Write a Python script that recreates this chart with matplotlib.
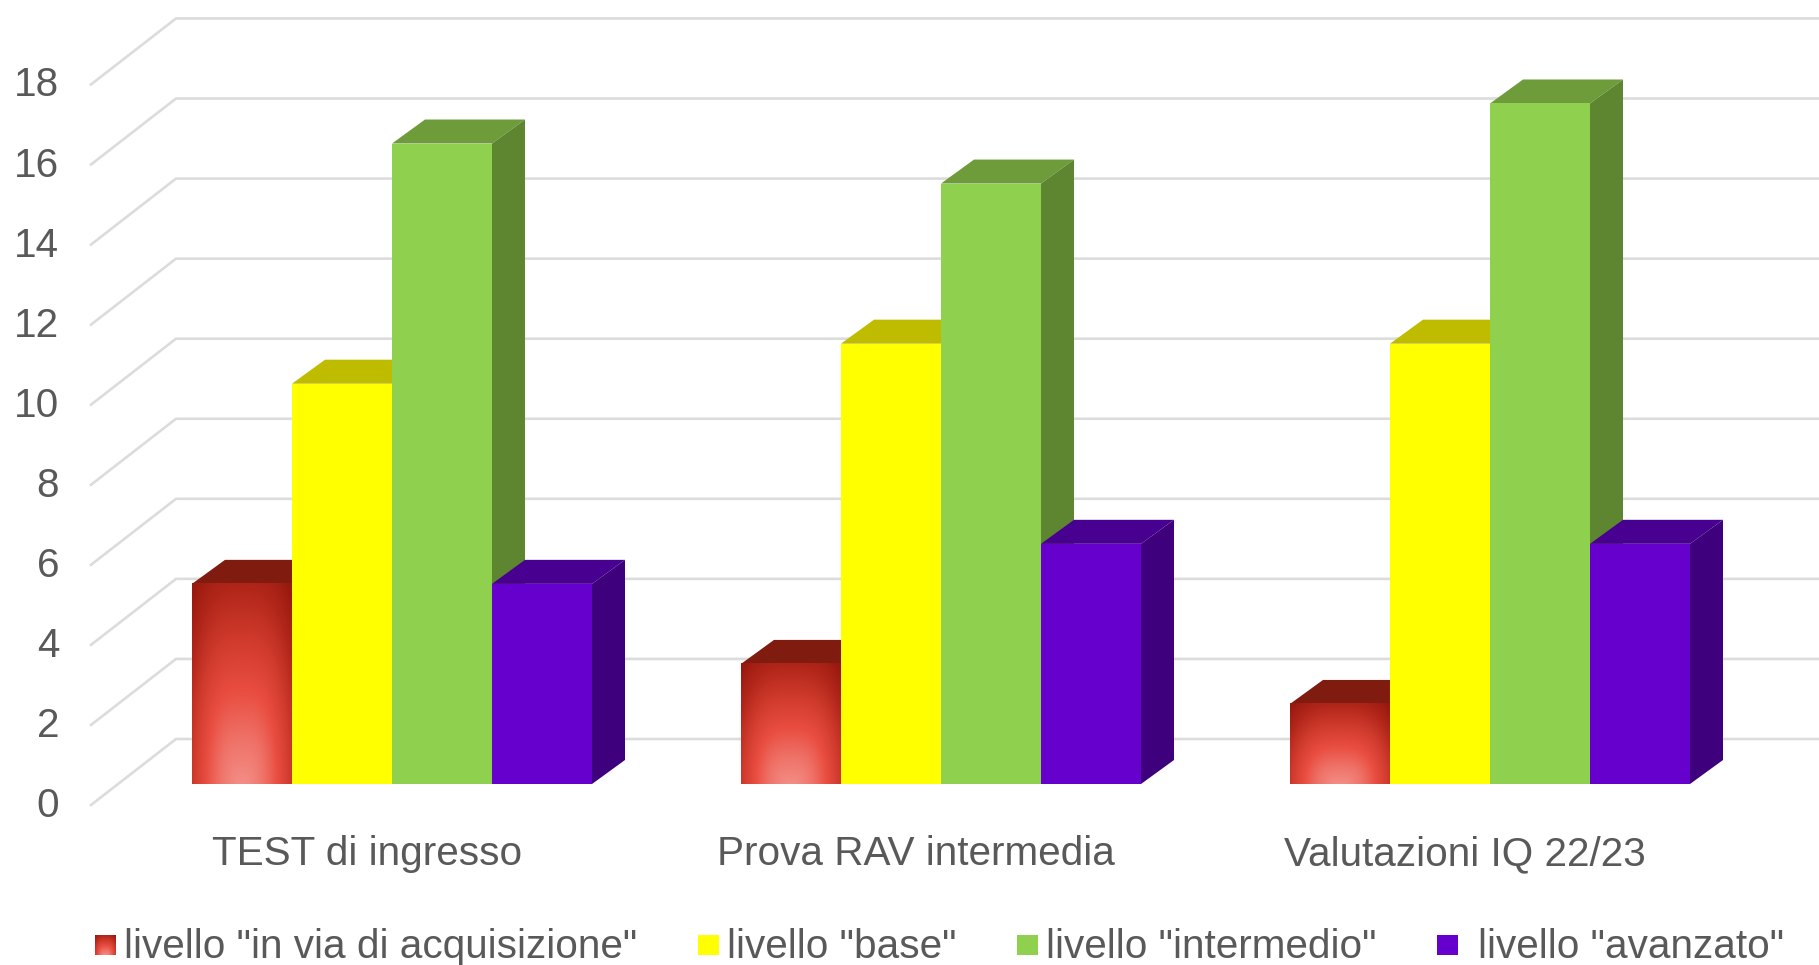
import numpy as np
import matplotlib
matplotlib.use("Agg")
import matplotlib.pyplot as plt
from matplotlib.colors import LinearSegmentedColormap
from matplotlib.patches import Polygon, Rectangle

categories = ["TEST di ingresso", "Prova RAV intermedia", "Valutazioni IQ 22/23"]
series_names = ['livello "in via di acquisizione"', 'livello "base"',
                'livello "intermedio"', 'livello "avanzato"']
in_via = [5, 3, 2]
base = [10, 11, 11]
intermedio = [16, 15, 17]
avanzato = [5, 6, 6]
y_tick_values = [0, 2, 4, 6, 8, 10, 12, 14, 16, 18]

W, H = 1819, 965
plt.rcParams["font.family"] = ["Liberation Sans", "DejaVu Sans"]
TXT = "#595959"
FS = 29.2

fig = plt.figure(figsize=(W / 100, H / 100), dpi=100, facecolor="white")

# Axes: pixel frame of the chart
LEFT, BOTTOM = 91, 805
ax = fig.add_axes([LEFT / W, 1 - BOTTOM / H, (W - LEFT) / W, BOTTOM / H])
PX_X, PX_Y = 549.0, 40.03      # pixels per category / per value unit
X0, Y0 = 392.0, 784.0          # pixel of category 0 centre, value 0 on bar front
xlim = ((LEFT - X0) / PX_X, (W - X0) / PX_X)
ylim = ((Y0 - BOTTOM) / PX_Y, Y0 / PX_Y)

bar_w = 100.0 / PX_X
dx = 33.0 / PX_X
dy = 24.0 / PX_Y

# Gridlines: side wall + back wall
tick_offset = (805 - 784) / PX_Y
back_offset = (784 - 739) / PX_Y
back_x = (176 - X0) / PX_X
for v in y_tick_values:
    ax.plot([xlim[0], back_x, xlim[1]],
            [v - tick_offset, v + back_offset, v + back_offset],
            color="#DCDCDC", lw=1.9, solid_joinstyle="miter", zorder=1, clip_on=False)

red_cmap = LinearSegmentedColormap.from_list("red3d", [
    (0.00, "#F38D85"), (0.18, "#EF7268"), (0.38, "#E94D40"),
    (0.60, "#CE3A2C"), (0.80, "#B2261A"), (1.00, "#98190F")])

def red_gradient(n=200):
    xx = np.linspace(-1, 1, n)
    yy = np.linspace(1, 0, n)
    u, v = np.meshgrid(xx, yy)
    r = np.sqrt((np.abs(u) ** 3.0) * 0.62 + v ** 2 * 1.05)
    return np.clip(r / 1.25, 0, 1)

styles = [
    (in_via, None, "#801B10", "#801B10"),
    (base, "#FFFF00", "#BFBC00", "#BFBC00"),
    (intermedio, "#8FD14F", "#6F9C3B", "#5E8530"),
    (avanzato, "#6600CC", "#47008F", "#3E007C"),
]

z = 3
for c in range(len(categories)):
    for s, (vals, face, top_c, side_c) in enumerate(styles):
        h = vals[c]
        x = c + (s - 2) * bar_w
        ax.add_patch(Polygon([(x, h), (x + bar_w, h), (x + bar_w + dx, h + dy), (x + dx, h + dy)],
                             closed=True, fc=top_c, ec="none", zorder=z))
        ax.add_patch(Polygon([(x + bar_w, 0), (x + bar_w + dx, dy), (x + bar_w + dx, h + dy), (x + bar_w, h)],
                             closed=True, fc=side_c, ec="none", zorder=z))
        z += 1
        if face is None:
            ax.imshow(red_gradient(), cmap=red_cmap, vmin=0, vmax=1, aspect="auto",
                      extent=(x, x + bar_w, 0, h), zorder=z, interpolation="bilinear")
        else:
            ax.add_patch(Rectangle((x, 0), bar_w, h, fc=face, ec="none", zorder=z))
        z += 1

ax.set_xlim(*xlim)
ax.set_ylim(*ylim)
for sp in ax.spines.values():
    sp.set_visible(False)
ax.patch.set_visible(False)

label_lift = 3.0 / PX_Y
ax.set_yticks([v - tick_offset + label_lift for v in y_tick_values],
              labels=[str(v) for v in y_tick_values])
ax.tick_params(axis="y", length=0, pad=23, labelsize=FS, labelcolor=TXT)
label_shift = 25.0 / PX_X
ax.set_xticks([c - label_shift for c in range(len(categories))], labels=categories)
ax.tick_params(axis="x", length=0, pad=21.5, labelsize=FS, labelcolor=TXT)

# Legend
swatch_x = [95, 698, 1017, 1437]
text_x = [124, 727, 1046, 1478]
swatch_colors = [None, "#FFFF00", "#8FD14F", "#6600CC"]
for sx, tx, col, name in zip(swatch_x, text_x, swatch_colors, series_names):
    if col is None:
        lax = fig.add_axes([sx / W, 1 - 955 / H, 21 / W, 20 / H])
        lax.imshow(red_gradient(), cmap=red_cmap, vmin=0, vmax=1, aspect="auto", interpolation="bilinear")
        lax.axis("off")
    else:
        fig.add_artist(Rectangle((sx / W, 1 - 955 / H), 21 / W, 20 / H, fc=col, ec="none",
                                 transform=fig.transFigure))
    fig.text(tx / W, 1 - 958 / H, name, color=TXT, fontsize=FS, va="baseline", ha="left")

fig.savefig("out.png", dpi=100, facecolor="white")
